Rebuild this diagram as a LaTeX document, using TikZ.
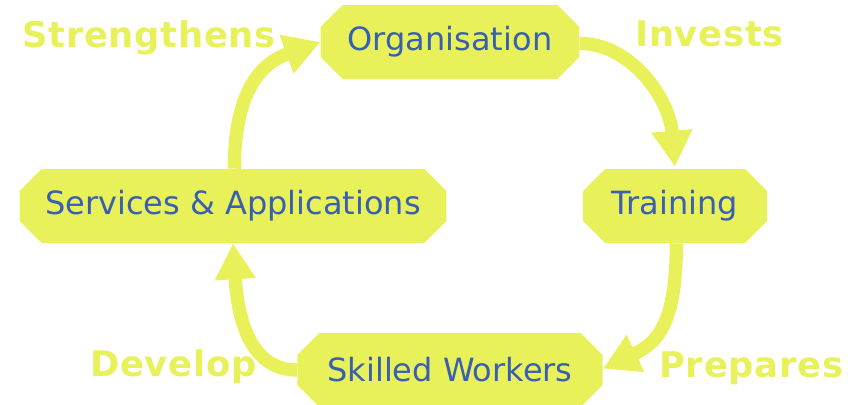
\documentclass[tikz,border=0pt]{standalone}
\usepackage{fontspec}
\setmainfont{DejaVu Sans}
\newfontfamily\lblfont[LetterSpace=2]{DejaVu Sans}
\usetikzlibrary{arrows.meta}
\definecolor{ylw}{HTML}{E8F15A}
\definecolor{txtblue}{HTML}{3A5FAF}
\newcommand{\ppb}{path picture bounding box}
\tikzset{
  box/.style={rectangle, draw=none, text=txtblue, font=\fontsize{24}{27}\selectfont,
    inner sep=0pt, minimum height=55.5pt,
    path picture={\fill[ylw] ([xshift=16.5pt]\ppb.north west) -- ([xshift=-16.5pt]\ppb.north east)
      -- ([yshift=-16.5pt]\ppb.north east) -- ([yshift=16.5pt]\ppb.south east)
      -- ([xshift=-16.5pt]\ppb.south east) -- ([xshift=16.5pt]\ppb.south west)
      -- ([yshift=16.5pt]\ppb.south west) -- ([yshift=-16.5pt]\ppb.north west) -- cycle;}},
  lbl/.style={text=ylw, font=\lblfont\fontsize{26.5}{30}\selectfont\bfseries, inner sep=0pt, anchor=base west},
  arr/.style={draw=ylw, line width=10pt, -{Triangle[length=27pt,width=29pt]}}
}
\begin{document}
\begin{tikzpicture}[x=0.75pt,y=-0.75pt]
\useasboundingbox (0,0) rectangle (863,404);
\node[box, minimum width=194pt] (org) at (450,42) {Organisation};
\node[box, minimum width=138pt] (train) at (675,206) {Training};
\node[box, minimum width=320pt] (serv) at (233,206) {Services \& Applications};
\node[box, minimum width=229pt] (sw) at (450,370) {Skilled Workers};
\node[lbl] (l1) at (22,47) {Strengthens};
\node[lbl] (l2) at (635,46) {Invests};
\node[lbl] (l3) at (659,377) {Prepares};
\node[lbl] (l4) at (90,376) {Develop};
\draw[arr] ([yshift=-1pt]org.east) .. controls +(50,0) and +(-6,-70) .. ([yshift=1.5pt]train.north);
\draw[arr] ([xshift=1pt]train.south) .. controls +(0,80) and +(55,-26) .. ([yshift=1pt]sw.east);
\draw[arr] (sw.west) .. controls +(-45,0) and +(5,80) .. (serv.south);
\draw[arr] ([xshift=1pt]serv.north) .. controls +(0,-90) and +(-50,18) .. (org.west);
\end{tikzpicture}
\end{document}
